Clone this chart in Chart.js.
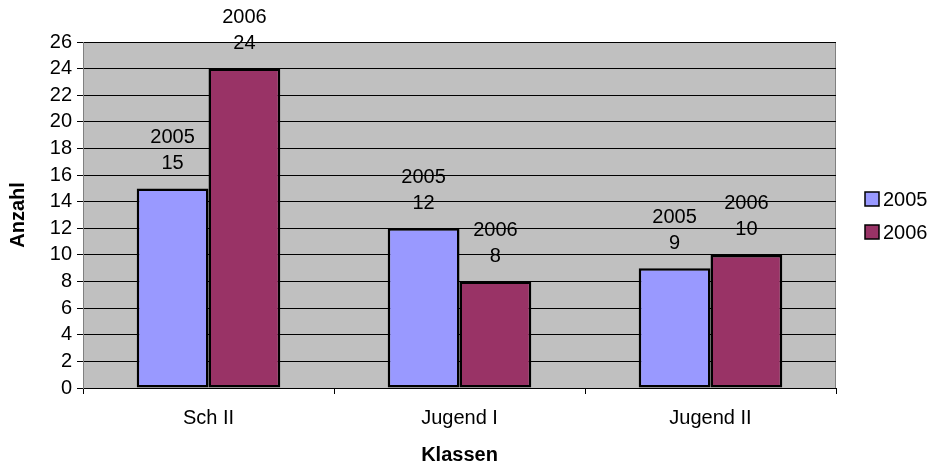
<!DOCTYPE html>
<html>
<head>
<meta charset="utf-8">
<script src="https://cdn.jsdelivr.net/npm/chart.js@4/dist/chart.umd.min.js"></script>
<style>
  html, body { margin: 0; padding: 0; background: #fff; }
  #wrap { width: 936px; height: 465px; }
</style>
</head>
<body>
<div id="wrap"><canvas id="chart"></canvas></div>
<script>
const categories = ['Sch II', 'Jugend I', 'Jugend II'];
const seriesNames = ['2005', '2006'];
const values2005 = [15, 12, 9];
const values2006 = [24, 8, 10];
const seriesColors = ['#9999FF', '#993366'];

const FONT = 'Arial, "Liberation Sans", sans-serif';
const FSIZE = 20;

// grey plot area like the old office charts
const plotBackground = {
    id: 'plotBackground',
    beforeDraw(chart) {
        const { ctx, chartArea: a } = chart;
        ctx.save();
        ctx.fillStyle = '#C0C0C0';
        ctx.fillRect(a.left, a.top, a.right - a.left, a.bottom - a.top);
        ctx.strokeStyle = '#808080';
        ctx.lineWidth = 1;
        ctx.strokeRect(a.left + 0.5, a.top + 0.5, a.right - a.left - 1, a.bottom - a.top);
        ctx.restore();
    }
};

// two line labels above each bar: series name, then value
const barLabels = {
    id: 'barLabels',
    afterDatasetsDraw(chart) {
        const { ctx } = chart;
        ctx.save();
        ctx.fillStyle = '#000';
        ctx.font = FSIZE + 'px ' + FONT;
        ctx.textAlign = 'center';
        ctx.textBaseline = 'middle';
        chart.data.datasets.forEach((ds, i) => {
            const meta = chart.getDatasetMeta(i);
            meta.data.forEach((bar, j) => {
                ctx.fillText(ds.label, bar.x, bar.y - 51);
                ctx.fillText(String(ds.data[j]), bar.x, bar.y - 25);
            });
        });
        ctx.restore();
    }
};

// legend on the right side
const sideLegend = {
    id: 'sideLegend',
    afterDraw(chart) {
        const { ctx } = chart;
        ctx.save();
        ctx.font = FSIZE + 'px ' + FONT;
        ctx.textBaseline = 'middle';
        ctx.textAlign = 'left';
        chart.data.datasets.forEach((ds, i) => {
            const y = 199 + i * 33;
            ctx.fillStyle = ds.backgroundColor;
            ctx.fillRect(865, y - 7, 14, 14);
            ctx.strokeStyle = '#000';
            ctx.lineWidth = 1.5;
            ctx.strokeRect(865, y - 7, 14, 14);
            ctx.fillStyle = '#000';
            ctx.fillText(ds.label, 883, y + 1);
        });
        ctx.restore();
    }
};

new Chart(document.getElementById('chart'), {
    type: 'bar',
    data: {
        labels: categories,
        datasets: [
            {
                label: seriesNames[0],
                data: values2005,
                backgroundColor: seriesColors[0],
                borderColor: '#000',
                borderWidth: 2.5,
                borderSkipped: false,
            },
            {
                label: seriesNames[1],
                data: values2006,
                backgroundColor: seriesColors[1],
                borderColor: '#000',
                borderWidth: 2.5,
                borderSkipped: false,
            },
        ],
    },
    options: {
        responsive: true,
        maintainAspectRatio: false,
        animation: false,
        categoryPercentage: 0.572,
        barPercentage: 1,
        layout: { padding: { top: 42, right: 100, left: 0, bottom: 0 } },
        plugins: {
            legend: { display: false },
            tooltip: { enabled: false },
        },
        scales: {
            x: {
                grid: {
                    offset: true,
                    drawOnChartArea: false,
                    color: '#000',
                    tickLength: 6,
                },
                border: { color: '#000', width: 1 },
                ticks: {
                    color: '#000',
                    font: { family: FONT, size: FSIZE },
                    padding: 12,
                },
                title: {
                    display: true,
                    text: 'Klassen',
                    color: '#000',
                    font: { family: FONT, size: FSIZE, weight: 'bold', lineHeight: 1 },
                    padding: { top: 0, bottom: 0 },
                },
                afterFit(scale) { scale.height = 77; },
            },
            y: {
                min: 0,
                max: 26,
                ticks: {
                    stepSize: 2,
                    autoSkip: false,
                    color: '#000',
                    font: { family: FONT, size: FSIZE, lineHeight: 1 },
                    padding: 5,
                },
                grid: {
                    color: '#000',
                    tickLength: 6,
                },
                border: { color: '#808080', width: 1 },
                title: {
                    display: true,
                    text: 'Anzahl',
                    color: '#000',
                    font: { family: FONT, size: FSIZE, weight: 'bold', lineHeight: 1 },
                    padding: { top: 8, bottom: 0 },
                },
                afterFit(scale) { scale.width = 83; },
            },
        },
    },
    plugins: [plotBackground, barLabels, sideLegend],
});
</script>
</body>
</html>
